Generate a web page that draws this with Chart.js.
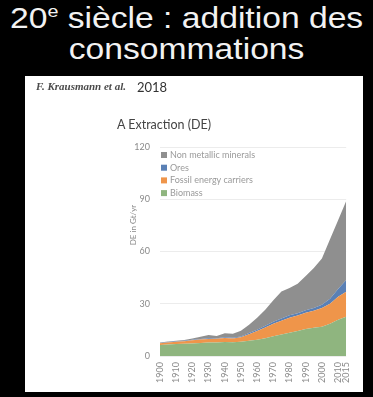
<!DOCTYPE html>
<html>
<head>
<meta charset="utf-8">
<script src="https://cdn.jsdelivr.net/npm/chart.js@4.4.1/dist/chart.umd.min.js"></script>
<style>
  body { margin: 0; background: #000; width: 373px; height: 397px; overflow: hidden; position: relative; font-family: "Liberation Sans", Arial, sans-serif; }
  #titre { position: absolute; left: 0; top: 3px; width: 373px; text-align: center; color: #f2f2f2; font-size: 29px; line-height: 31px; transform: scaleX(1.16); transform-origin: 186px 0; }
  #titre sup { font-size: 17px; vertical-align: 11px; line-height: 0; }
  #panneau { position: absolute; left: 25px; top: 76px; width: 338px; height: 316px; background: #fff; }
  #auteurs { position: absolute; left: 11px; top: 4px; font: italic bold 11px "Liberation Serif", serif; color: #4a4a4a; }
  #annee { position: absolute; left: 112px; top: 3px; font: 13px Lato, sans-serif; color: #333; }
  #soustitre { position: absolute; left: 92px; top: 41px; font: 12.5px Lato, sans-serif; color: #444; }
  canvas { position: absolute; left: 0; top: 0; }
</style>
</head>
<body>
<div id="titre">20<sup>e</sup> siècle : addition des<br>consommations</div>
<div id="panneau">
  <canvas id="graphe" width="338" height="316"></canvas>
  <div id="auteurs">F. Krausmann et al.</div>
  <div id="annee">2018</div>
  <div id="soustitre">A Extraction (DE)</div>
</div>
<script>
// annees (tous les 5 ans) et valeurs, en Gt/an
const annees = [1900, 1905, 1910, 1915, 1920, 1925, 1930, 1935, 1940, 1945, 1950, 1955,
                1960, 1965, 1970, 1975, 1980, 1985, 1990, 1995, 2000, 2005, 2010, 2015];
const biomasse = [6.3, 6.6, 6.9, 7.0, 7.2, 7.5, 7.7, 7.8, 8.0, 7.9, 8.2, 8.8,
                  9.4, 10.2, 11.3, 12.4, 13.4, 14.4, 15.5, 16.2, 16.8, 18.5, 20.8, 22.6];
const fossiles = [1.0, 1.2, 1.3, 1.5, 1.8, 2.0, 2.1, 2.1, 2.3, 2.2, 2.5, 3.7,
                  4.9, 6.1, 7.2, 7.9, 8.6, 8.8, 9.3, 9.8, 10.8, 11.5, 13.2, 14.3];
const minerais = [0.2, 0.2, 0.25, 0.25, 0.3, 0.3, 0.35, 0.3, 0.4, 0.4, 0.5, 0.7,
                  0.8, 1.0, 1.2, 1.3, 1.4, 1.4, 1.5, 1.6, 1.8, 2.8, 4.4, 6.7];
const nonMetal = [0.3, 0.3, 0.35, 0.45, 0.7, 1.2, 1.85, 1.3, 2.3, 2.3, 3.3, 4.8,
                  6.9, 9.2, 12.3, 15.4, 15.6, 16.9, 19.7, 22.9, 26.6, 34.2, 39.6, 45.4];
const series = ["Biomass", "Fossil energy carriers", "Ores", "Non metallic minerals"];
const couleurs = ["#8fb57f", "#ef954a", "#5a80b5", "#8f8f8f"];
const xTicks = [1900, 1910, 1920, 1930, 1940, 1950, 1960, 1970, 1980, 1990, 2000, 2010, 2015];
const yTicks = [0, 30, 60, 90, 120];
const titreY = "DE in Gt/yr";

function points(valeurs) {
  return annees.map((a, i) => ({ x: a, y: valeurs[i] }));
}

const valeursParSerie = [biomasse, fossiles, minerais, nonMetal];
const datasets = valeursParSerie.map((v, i) => ({
  label: series[i],
  data: points(v),
  backgroundColor: couleurs[i],
  borderWidth: 0,
  pointRadius: 0,
  fill: i == 0 ? "origin" : "-1",
}));

// legende verticale dans la zone du graphe + titre de l'axe y
const legende = {
  id: "legende",
  afterDraw(chart) {
    const ctx = chart.ctx;
    const ca = chart.chartArea;
    ctx.save();
    ctx.font = "9px Lato";
    ctx.textBaseline = "middle";
    chart.data.datasets.slice().reverse().forEach((d, i) => {
      const y = ca.top + 8 + i * 12.7;
      ctx.fillStyle = d.backgroundColor;
      ctx.fillRect(ca.left + 1, y - 3, 6, 6);
      ctx.fillStyle = "#9a9a9a";
      ctx.fillText(d.label, ca.left + 10, y);
    });
    ctx.translate(108, 149);
    ctx.rotate(-Math.PI / 2);
    ctx.textAlign = "center";
    ctx.font = "8px Lato";
    ctx.fillStyle = "#8a8a8a";
    ctx.fillText(titreY, 0, 0);
    ctx.restore();
  },
};

const config = {
  type: "line",
  data: { datasets: datasets },
  options: {
    responsive: false,
    animation: false,
    layout: { padding: { left: 0, top: 71, right: 10, bottom: 0 } },
    plugins: { legend: { display: false }, tooltip: { enabled: false } },
    scales: {
      x: {
        type: "linear",
        min: 1900,
        max: 2015,
        afterBuildTicks: (s) => { s.ticks = xTicks.map((v) => ({ value: v })); },
        afterFit: (s) => { s.height = 36; },
        grid: { display: false, drawTicks: false },
        border: { display: false },
        ticks: {
          autoSkip: false,
          minRotation: 90,
          maxRotation: 90,
          padding: 6,
          color: "#8a8a8a",
          font: { family: "Lato", size: 9 },
          callback: (v) => String(v),
        },
      },
      y: {
        stacked: true,
        min: 0,
        max: 120,
        afterBuildTicks: (s) => { s.ticks = yTicks.map((v) => ({ value: v })); },
        afterFit: (s) => { s.width = 135; },
        grid: { color: "#ececec", drawTicks: false },
        border: { display: false },
        ticks: { padding: 10, color: "#8a8a8a", font: { family: "Lato", size: 9 } },
      },
    },
  },
  plugins: [legende],
};

let chart = new Chart(document.getElementById("graphe").getContext("2d"), config);
</script>
</body>
</html>
